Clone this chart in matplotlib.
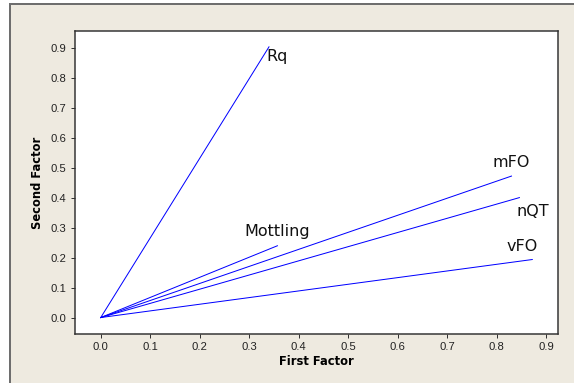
import matplotlib
matplotlib.use("Agg")
import matplotlib.pyplot as plt
from matplotlib.patches import Rectangle

variables = ["Rq", "mFO", "nQT", "vFO", "Mottling"]
first_factor = [0.340, 0.830, 0.846, 0.872, 0.357]
second_factor = [0.905, 0.473, 0.401, 0.194, 0.240]
x_ticks = [0.0, 0.1, 0.2, 0.3, 0.4, 0.5, 0.6, 0.7, 0.8, 0.9]
y_ticks = [0.0, 0.1, 0.2, 0.3, 0.4, 0.5, 0.6, 0.7, 0.8, 0.9]

# label offsets (pixels) of left/center of label from line end
offsets = {"Rq": (-3, -10), "mFO": (-19, 14), "nQT": (-3, -14),
           "vFO": (-26, 13), "Mottling": (-33, 14)}

W, H = 574, 383
fig = plt.figure(figsize=(W / 72, H / 72), dpi=72, facecolor="white")
fig.patches.append(Rectangle((10 / W, -0.1), 1.2, 1 - 4 / H + 0.1, transform=fig.transFigure,
                             facecolor="#EEEAE0", edgecolor="#6E6E6E", linewidth=2, zorder=-5))

ax = fig.add_axes([75 / W, 1 - 334 / H, (558 - 75) / W, (334 - 31) / H])
ax.set_zorder(2)
ax.set_facecolor("white")
for x, y, name in zip(first_factor, second_factor, variables):
    ax.plot([0, x], [0, y], color="#0000FF", linewidth=1)
    dx, dy = offsets[name]
    ax.annotate(name, (x, y), xytext=(dx, dy), textcoords="offset pixels",
                ha="left", va="center", fontsize=16, family="DejaVu Sans", color="#111111")

ax.set_xlim(-0.052, 0.924)
ax.set_ylim(-0.055, 0.958)
ax.set_xticks(x_ticks)
ax.set_yticks(y_ticks)
ax.set_xticklabels([f"{v:.1f}" for v in x_ticks], family="Liberation Sans", fontsize=11.2, color="#222222")
ax.set_yticklabels([f"{v:.1f}" for v in y_ticks], family="Liberation Sans", fontsize=11.2, color="#222222")
ax.tick_params(axis="both", length=4, width=1, color="#333333")
ax.tick_params(axis="y", pad=5)
ax.tick_params(axis="x", pad=4)
for s in ax.spines.values():
    s.set_color("#333333")
    s.set_linewidth(1.5)

ax.set_xlabel("First Factor", fontsize=11.5, fontweight="bold", family="DejaVu Sans", labelpad=3)
ax.set_ylabel("Second Factor", fontsize=11.5, fontweight="bold", family="DejaVu Sans", labelpad=6)

fig.savefig("out.png", dpi=72, facecolor=fig.get_facecolor())
